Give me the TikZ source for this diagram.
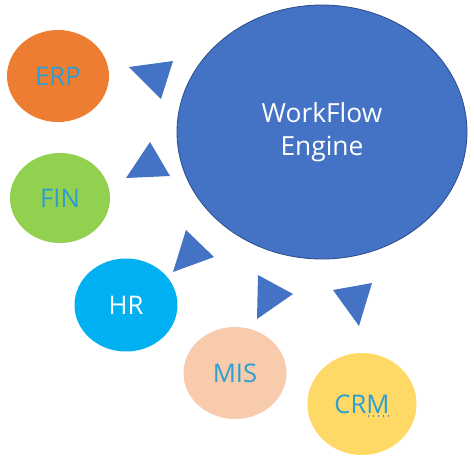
\documentclass[tikz,border=0pt]{standalone}
\usepackage{fontspec}
\setmainfont{Open Sans}
\usepackage{tikz}
\usetikzlibrary{shapes.geometric}

\definecolor{engine}{RGB}{68,114,196}
\definecolor{engineline}{RGB}{47,82,143}
\definecolor{erpc}{RGB}{237,125,49}
\definecolor{finc}{RGB}{146,208,80}
\definecolor{hrc}{RGB}{0,176,240}
\definecolor{misc}{RGB}{248,203,173}
\definecolor{crmc}{RGB}{255,217,102}
\definecolor{labelblue}{RGB}{46,158,210}

\tikzset{
  sys/.style={ellipse,inner sep=0pt,text=labelblue,
    font=\fontsize{14.6}{18.7}\selectfont},
  tri/.style={fill=engine}
}

\begin{document}
\begin{tikzpicture}[x=0.02cm,y=-0.02cm]
  \useasboundingbox (0,0) rectangle (474,461);
  \node[sys,fill=engine,draw=engineline,line width=0.5pt,text=white,align=center,
    font=\fontsize{15}{18.7}\selectfont,
    minimum width=5.8cm,minimum height=5.08cm] (E) at (322,132) {WorkFlow\\Engine};
  \node[sys,fill=erpc,minimum width=2.04cm,minimum height=1.84cm] (S-1) at (58,76) {ERP};
  \node[sys,fill=finc,minimum width=2.0cm,minimum height=1.8cm] (S-2) at (60,198) {FIN};
  \node[sys,fill=hrc,text=white,minimum width=2.06cm,minimum height=1.86cm] (S-3) at (126,305) {HR};
  \node[sys,fill=misc,minimum width=2.06cm,minimum height=1.84cm] (S-4) at (235,373) {MIS};
  \node[sys,fill=crmc,minimum width=2.18cm,minimum height=2.04cm] (S-5) at (362,404) {CRM};
  \fill[tri] (129,67) -- (173,61) -- (161,99) -- cycle;
  \fill[tri] (150,142) -- (170,176) -- (126,178) -- cycle;
  \fill[tri] (186,230) -- (214,257) -- (173,272) -- cycle;
  \fill[tri] (258,275) -- (293,294) -- (257,319) -- cycle;
  \fill[tri] (333,290) -- (372,283) -- (359,326) -- cycle;
  \draw[labelblue!70!gray,line width=0.8pt,dotted] ([shift={(6,12)}]S-5.center) -- ([shift={(27,12)}]S-5.center);
\end{tikzpicture}
\end{document}
